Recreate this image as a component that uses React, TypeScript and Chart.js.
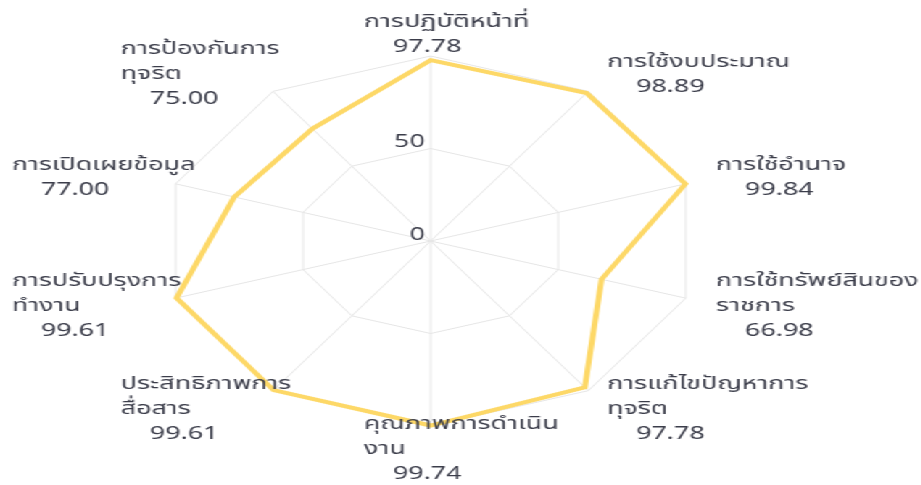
import React, { useEffect, useRef } from "react";
import { Chart, registerables } from "chart.js";

Chart.register(...registerables);

// ---- data ----
const categoryLines: string[][] = [
  ["การปฏิบัติหน้าที่"],
  ["การใช้งบประมาณ"],
  ["การใช้อำนาจ"],
  ["การใช้ทรัพย์สินของ", "ราชการ"],
  ["การแก้ไขปัญหาการ", "ทุจริต"],
  ["คุณภาพการดำเนิน", "งาน"],
  ["ประสิทธิภาพการ", "สื่อสาร"],
  ["การปรับปรุงการ", "ทำงาน"],
  ["การเปิดเผยข้อมูล"],
  ["การป้องกันการ", "ทุจริต"],
];
const scores: number[] = [97.78, 98.89, 99.84, 66.98, 97.78, 99.74, 99.61, 99.61, 77.0, 75.0];
const tickValues: number[] = [0, 50];
const axisMin = 0;
const axisMax = 100;

// ---- style ----
const STRETCH = 1.45;
const BASE_W = 921 / STRETCH;
const BASE_H = 485;
const FONT = "'Noto Sans Thai', 'Noto Sans', 'Open Sans', sans-serif";
const FONT_SIZE = 18.5;
const LINE_H = 25;
const TEXT_COLOR = "#3b3d4a";
const GRID_COLOR = "#e6e6e6";
const LINE_COLOR = "#FDD867";
const LABEL_GAP = 22;
const NOMINAL_W = 92;
const VALUE_INDENT = 20;

const labelPlugin = {
  id: "customLabels",
  afterDraw(chart: any) {
    const scale = chart.scales.r;
    const ctx = chart.ctx as CanvasRenderingContext2D;
    ctx.save();
    ctx.font = `${FONT_SIZE}px ${FONT}`;
    ctx.fillStyle = TEXT_COLOR;
    ctx.textBaseline = "middle";
    ctx.textAlign = "left";
    categoryLines.forEach((lines, i) => {
      const angle = scale.getIndexAngle(i);
      const s = Math.sin(angle);
      const c = Math.cos(angle);
      const v = scale.getPointPosition(i, scale.drawingArea);
      const all = [...lines, scores[i].toFixed(2)];
      const n = all.length;
      const cy = v.y - LABEL_GAP * c + 2;
      let left: number;
      if (Math.abs(s) < 0.01) left = v.x - NOMINAL_W / 2;
      else if (s > 0) left = v.x + LABEL_GAP * s;
      else left = v.x + LABEL_GAP * s - NOMINAL_W;
      all.forEach((t, k) => {
        const y = cy + (k - (n - 1) / 2) * LINE_H;
        const x = left + (k === n - 1 ? VALUE_INDENT : 0);
        ctx.fillText(t, x, y);
      });
    });
    // tick labels
    ctx.textAlign = "right";
    tickValues.forEach((tv) => {
      const d = scale.getDistanceFromCenterForValue(tv);
      ctx.fillText(String(tv), scale.xCenter - 4, scale.yCenter - d - 5);
    });
    ctx.restore();
  },
};

export default function App() {
  const ref = useRef<HTMLCanvasElement | null>(null);
  useEffect(() => {
    if (!ref.current) return;
    const chart = new Chart(ref.current, {
      type: "radar",
      data: {
        labels: categoryLines.map((l) => l.join(" ")),
        datasets: [
          {
            data: scores,
            borderColor: LINE_COLOR,
            backgroundColor: "rgba(0,0,0,0)",
            borderWidth: 4,
            pointRadius: 0,
            pointHoverRadius: 0,
            fill: false,
            tension: 0,
          },
        ],
      },
      options: {
        animation: false,
        responsive: true,
        maintainAspectRatio: false,
        layout: { padding: { top: 56, bottom: 58, left: 112, right: BASE_W - 112 - 371 } },
        plugins: { legend: { display: false }, tooltip: { enabled: false } },
        scales: {
          r: {
            min: axisMin,
            max: axisMax,
            ticks: { display: false, stepSize: 50 },
            pointLabels: { display: false },
            grid: { color: GRID_COLOR, lineWidth: 1 },
            angleLines: { color: GRID_COLOR, lineWidth: 1 },
          },
        },
      },
      plugins: [labelPlugin],
    });
    return () => chart.destroy();
  }, []);
  return (
    <div
      style={{
        position: "fixed",
        left: 0,
        top: 0,
        width: BASE_W,
        height: BASE_H,
        transform: `scaleX(${STRETCH})`,
        transformOrigin: "0 0",
        background: "#fff",
      }}
    >
      <canvas ref={ref} />
    </div>
  );
}
